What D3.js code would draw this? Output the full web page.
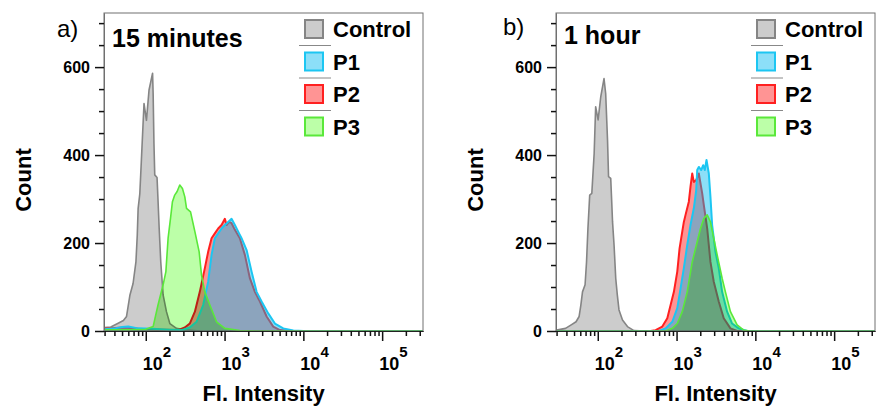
<!DOCTYPE html>
<html>
<head>
<meta charset="utf-8">
<title>Flow cytometry histograms</title>
<script src="https://cdn.jsdelivr.net/npm/d3@7/dist/d3.min.js"></script>
<style>
  body { margin: 0; background: #fff; }
  svg { display: block; font-family: 'Liberation Sans', Arial, Helvetica, sans-serif; }
</style>
</head>
<body>
<svg id="chart" width="876" height="407"></svg>
<script>
// ---- data (fluorescence intensity, count) ----
const seriesNames = ["Control", "P1", "P2", "P3"];
const panelLabels = ["a)", "b)"];
const panelTitles = ["15 minutes", "1 hour"];
const yTicks = [0, 200, 400, 600];
const xTicks = [100, 1000, 10000, 100000];
const xTickExp = ["2", "3", "4", "5"];

// 15 minutes
const ctrl15 = [[30,8],[36,9],[44,17],[52,24],[57,33],[63,82],[69,108],[75,157],[78,218],[80,279],[84,312],[88,389],[92,464],[95,517],[102,479],[110,548],[122,586],[124,540],[127,427],[130,355],[139,349],[143,298],[148,233],[155,157],[166,82],[183,44],[202,17],[245,6],[320,2],[500,0],[330000,0]];
const p1_15 = [[30,4],[40,6],[50,9],[60,10],[80,6],[120,5],[200,3],[284,2],[362,8],[441,21],[535,59],[619,112],[684,173],[753,211],[830,222],[916,233],[1009,241],[1111,248],[1227,255],[1352,241],[1489,226],[1643,211],[1905,184],[2203,135],[2551,89],[2952,67],[3584,40],[4357,17],[5558,6],[7444,1],[10000,0],[330000,0]];
const p2_15 = [[30,5],[40,7],[55,8],[80,5],[150,3],[257,2],[313,8],[362,17],[420,44],[485,89],[562,143],[619,180],[684,211],[753,222],[830,233],[916,241],[1009,255],[1060,241],[1143,248],[1227,245],[1352,230],[1563,211],[1811,173],[2095,120],[2426,89],[2810,67],[3418,33],[4147,10],[5044,2],[7000,0],[330000,0]];
const p3_15 = [[30,3],[60,3],[100,4],[124,10],[143,59],[166,105],[180,135],[192,211],[206,256],[218,294],[233,309],[250,317],[270,332],[292,324],[313,305],[329,279],[370,271],[420,226],[476,180],[510,127],[562,89],[651,59],[791,21],[1009,6],[1563,1],[2500,0],[330000,0]];

// 1 hour
const ctrl1h = [[30,2],[39,6],[46,14],[53,21],[58,33],[61,59],[64,89],[69,105],[72,157],[75,233],[79,309],[84,313],[90,404],[94,510],[101,480],[109,532],[120,574],[126,540],[133,434],[137,351],[146,347],[150,298],[154,248],[161,195],[169,120],[177,82],[186,48],[206,25],[238,10],[288,1],[400,0],[330000,0]];
const p1_1h = [[30,0],[597,0],[726,6],[883,21],[1021,52],[1124,97],[1237,143],[1365,195],[1503,241],[1656,279],[1775,320],[1828,366],[1916,373],[2055,366],[2177,377],[2282,366],[2399,389],[2566,358],[2692,305],[2829,241],[3117,180],[3431,143],[3787,89],[4382,44],[5071,17],[6149,6],[7852,0],[330000,0]];
const p2_1h = [[30,0],[469,0],[542,2],[659,10],[763,29],[840,59],[925,89],[1021,135],[1092,188],[1181,226],[1237,248],[1300,264],[1431,294],[1503,328],[1580,358],[1656,339],[1775,343],[1916,358],[2115,313],[2218,286],[2449,233],[2692,157],[2966,112],[3431,67],[3968,29],[4827,6],[5867,0],[330000,0]];
const p3_1h = [[30,0],[726,0],[883,6],[1021,17],[1181,44],[1365,89],[1580,157],[1828,203],[2013,233],[2218,256],[2449,264],[2692,248],[2966,211],[3276,173],[3787,120],[4169,89],[4827,44],[5867,14],[7112,2],[8500,0],[330000,0]];

const panelData = [
  { Control: ctrl15, P1: p1_15, P2: p2_15, P3: p3_15 },
  { Control: ctrl1h, P1: p1_1h, P2: p2_1h, P3: p3_1h }
];

// ---- styles ----
const styles = {
  Control: { fill: "#9a9a9a", op: 0.5,  stroke: "#858585", sw: 1.6, blend: "normal" },
  P1:      { fill: "#00b8f0", op: 0.45, stroke: "#1cc6f2", sw: 2,   blend: "normal" },
  P2:      { fill: "#ff0000", op: 0.42, stroke: "#ff2020", sw: 2,   blend: "normal" },
  P3:      { fill: "#bcffa8", op: 1,    stroke: "#5ae83a", sw: 1.6, blend: "multiply" }
};
const drawOrder = ["Control", "P2", "P1", "P3"];

const panels = [
  { left: 104, top: 13, titleY: 47, labelX: 57, labelY: 37 },
  { left: 556, top: 13, titleY: 44, labelX: 503, labelY: 35 }
];
const plotW = 319, plotH = 318;

const svg = d3.select("#chart");

const x = d3.scaleLog().domain([29.5, 330000]).range([0, plotW]);
const y = d3.scaleLinear().domain([0, 723]).range([plotH, 0]);

const minorX = [];
for (let d = 1; d <= 5; d++) {
  for (let m = 2; m <= 9; m++) {
    const v = m * Math.pow(10, d);
    if (v >= 29.5 && v <= 330000) minorX.push(v);
  }
}
const minorY = d3.range(0, 751, 50).filter(v => v % 200 !== 0 && v <= 723);

panels.forEach((p, i) => {
  const g = svg.append("g").attr("transform", `translate(${p.left},${p.top})`);

  g.append("clipPath").attr("id", "clip" + i)
    .append("rect").attr("width", plotW).attr("height", plotH + 1);

  const plot = g.append("g").attr("clip-path", `url(#clip${i})`)
    .style("isolation", "isolate");
  plot.append("rect").attr("width", plotW).attr("height", plotH).attr("fill", "#fff");

  const area = d3.area()
    .x(d => x(d[0]))
    .y0(y(0))
    .y1(d => y(d[1]));
  const line = d3.line()
    .x(d => x(d[0]))
    .y(d => y(d[1]));

  drawOrder.forEach(name => {
    const s = styles[name];
    const data = panelData[i][name];
    plot.append("path")
      .attr("d", area(data))
      .attr("fill", s.fill)
      .attr("fill-opacity", s.op)
      .style("mix-blend-mode", s.blend);
    plot.append("path")
      .attr("d", line(data))
      .attr("fill", "none")
      .attr("stroke", s.stroke)
      .attr("stroke-width", s.sw)
      .attr("stroke-linejoin", "round");
  });

  // frame
  g.append("rect")
    .attr("width", plotW).attr("height", plotH)
    .attr("fill", "none")
    .attr("stroke", "#707070")
    .attr("stroke-width", 1);

  // y axis
  const yMaj = g.append("g").call(d3.axisLeft(y).tickValues(yTicks).tickSize(9).tickSizeOuter(0).tickPadding(5));
  const yMin = g.append("g").call(d3.axisLeft(y).tickValues(minorY).tickSize(5).tickSizeOuter(0).tickFormat(""));
  [yMaj, yMin].forEach(a => {
    a.select(".domain").attr("stroke", "#707070");
    a.selectAll(".tick line").attr("stroke", "#111").attr("stroke-width", 1.5);
  });
  yMaj.selectAll(".tick text")
    .attr("font-size", 16).attr("font-weight", "bold")
    .attr("font-family", "'Liberation Sans', Arial, sans-serif")
    .attr("fill", "#000");

  // x axis
  const xMaj = g.append("g").attr("transform", `translate(0,${plotH})`)
    .call(d3.axisBottom(x).tickValues(xTicks).tickSize(10).tickSizeOuter(0).tickFormat(""));
  const xMin = g.append("g").attr("transform", `translate(0,${plotH})`)
    .call(d3.axisBottom(x).tickValues(minorX).tickSize(5).tickSizeOuter(0).tickFormat(""));
  [xMaj, xMin].forEach(a => {
    a.select(".domain").attr("stroke", "#222").attr("stroke-width", 1.2);
    a.selectAll(".tick line").attr("stroke", "#111").attr("stroke-width", 1.5);
  });

  xTicks.forEach((v, k) => {
    const t = g.append("text")
      .attr("x", x(v) - 3)
      .attr("y", plotH + 39)
      .attr("font-size", 18)
      .attr("font-weight", "bold")
      .attr("fill", "#000");
    t.append("tspan").text("10");
    t.append("tspan").attr("dy", -13).attr("font-size", 15).text(xTickExp[k]);
  });

  // axis titles
  g.append("text")
    .attr("x", plotW / 2).attr("y", 388)
    .attr("text-anchor", "middle")
    .attr("font-size", 22).attr("font-weight", "bold")
    .text("Fl. Intensity");

  g.append("text")
    .attr("transform", `translate(-73,${167}) rotate(-90)`)
    .attr("text-anchor", "middle")
    .attr("font-size", 22).attr("font-weight", "bold")
    .text("Count");

  // panel label and title
  svg.append("text")
    .attr("x", p.labelX).attr("y", p.labelY)
    .attr("font-size", 24)
    .text(panelLabels[i]);

  g.append("text")
    .attr("x", 8).attr("y", p.titleY - p.top)
    .attr("font-size", 25).attr("font-weight", "bold")
    .text(panelTitles[i]);

  // legend
  const leg = g.append("g").attr("transform", `translate(${plotW - 118},0)`);
  seriesNames.forEach((name, r) => {
    const s = styles[name];
    const cy = 16 + r * 32.5;
    leg.append("rect")
      .attr("x", 0).attr("y", cy - 9)
      .attr("width", 18).attr("height", 18)
      .attr("fill", "#fff");
    leg.append("rect")
      .attr("x", 0).attr("y", cy - 9)
      .attr("width", 18).attr("height", 18)
      .attr("fill", s.fill).attr("fill-opacity", s.op)
      .attr("stroke", s.stroke).attr("stroke-width", 2);
    leg.append("text")
      .attr("x", 28).attr("y", cy + 8)
      .attr("font-size", 22).attr("font-weight", "bold")
      .text(name);
    if (r > 0) {
      leg.append("line")
        .attr("x1", -6).attr("x2", 26)
        .attr("y1", cy - 16).attr("y2", cy - 16)
        .attr("stroke", "#888").attr("stroke-width", 1);
    }
  });
});
</script>
</body>
</html>
